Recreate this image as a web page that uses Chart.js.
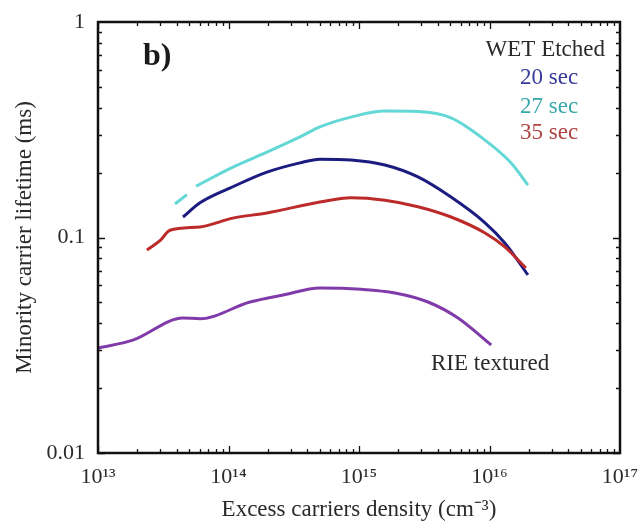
<!DOCTYPE html>
<html>
<head>
<meta charset="utf-8">
<script src="https://cdn.jsdelivr.net/npm/chart.js@4/dist/chart.umd.min.js"></script>
<style>
  html, body { margin: 0; padding: 0; background: #ffffff; }
  canvas { display: block; }
</style>
</head>
<body>
<canvas id="c" width="638" height="524"></canvas>
<script>
// ---- Data ----
const xTickValues = [1e13, 1e14, 1e15, 1e16, 1e17];
const xTickLabels = ['10\u00B9\u00B3', '10\u00B9\u2074', '10\u00B9\u2075', '10\u00B9\u2076', '10\u00B9\u2077'];
const yTickValues = [0.01, 0.1, 1];
const yTickLabels = ['0.01', '0.1', '1'];

const sec27X = [3.89e13, 4.8e13, 5.2e13, 5.64e13, 1.08e14, 1.97e14, 3.53e14, 5.02e14, 8.68e14, 1.58e15, 2.83e15, 5.07e15, 9.24e15, 1.46e16, 1.97e16];
const sec27Y = [0.143, 0.158, null, 0.173, 0.212, 0.249, 0.293, 0.326, 0.362, 0.386, 0.384, 0.359, 0.283, 0.222, 0.175];

const sec20X = [4.48e13, 6.05e13, 1.08e14, 1.97e14, 3.53e14, 5.02e14, 8.68e14, 1.58e15, 2.83e15, 5.07e15, 9.24e15, 1.31e16, 1.97e16];
const sec20Y = [0.1245, 0.145, 0.172, 0.201, 0.222, 0.231, 0.229, 0.217, 0.191, 0.154, 0.117, 0.0943, 0.067];

const sec35X = [2.37e13, 3.0e13, 3.56e13, 6.05e13, 1.08e14, 1.97e14, 5.02e14, 8.68e14, 1.58e15, 2.83e15, 5.07e15, 9.24e15, 1.31e16, 1.9e16];
const sec35Y = [0.0875, 0.097, 0.108, 0.112, 0.123, 0.130, 0.146, 0.153, 0.149, 0.139, 0.1245, 0.105, 0.0904, 0.0722];

const rieX = [1.0e13, 1.85e13, 4.48e13, 6.05e13, 1.46e14, 2.62e14, 5.02e14, 1.04e15, 1.89e15, 3.38e15, 5.74e15, 1.03e16];
const rieY = [0.0307, 0.0334, 0.0423, 0.0420, 0.0502, 0.0541, 0.0583, 0.0575, 0.0553, 0.0502, 0.0423, 0.0317];

const seriesNames = ['20 sec', '27 sec', '35 sec', 'RIE textured'];

// ---- helpers ----
function pts(xs, ys) { return xs.map((x, i) => ({ x: x, y: ys[i] })); }
const FONT = '"Liberation Serif", "Times New Roman", serif';
const TEXT = '#2a2a2a';

const frameTicks = {
  id: 'frameTicks',
  afterDatasetsDraw(chart) {
    const { ctx, chartArea: a, scales } = chart;
    const xs = scales.x, ys = scales.y;
    ctx.save();
    ctx.strokeStyle = '#111';
    ctx.lineWidth = 1.3;
    ctx.beginPath();
    for (let e = 13; e < 17; e++) {
      for (let k = 1; k <= 9; k++) {
        const v = k * Math.pow(10, e);
        const p = Math.round(xs.getPixelForValue(v)) + 0.5;
        const len = k === 1 ? 7 : 4;
        ctx.moveTo(p, a.bottom); ctx.lineTo(p, a.bottom - len);
        ctx.moveTo(p, a.top); ctx.lineTo(p, a.top + len);
      }
    }
    for (let e = -2; e < 0; e++) {
      for (let k = 1; k <= 9; k++) {
        const v = k * Math.pow(10, e);
        const p = Math.round(ys.getPixelForValue(v)) + 0.5;
        const len = k === 1 ? 7 : 4;
        ctx.moveTo(a.left, p); ctx.lineTo(a.left + len, p);
        ctx.moveTo(a.right, p); ctx.lineTo(a.right - len, p);
      }
    }
    ctx.stroke();
    ctx.lineWidth = 2.5;
    ctx.strokeRect(a.left, a.top, a.right - a.left, a.bottom - a.top);
    // annotations
    ctx.textBaseline = 'middle';
    ctx.fillStyle = '#1a1a1a';
    ctx.font = 'bold 32px ' + FONT;
    ctx.textAlign = 'left';
    ctx.fillText('b)', a.left + 45, a.top + 35);
    ctx.font = '23px ' + FONT;
    ctx.fillStyle = TEXT;
    ctx.textAlign = 'right';
    ctx.fillText('WET Etched', a.right - 15, a.top + 28);
    ctx.textAlign = 'left';
    ctx.fillStyle = '#3a3a9a';
    ctx.fillText(seriesNames[0], a.left + 422, a.top + 56);
    ctx.fillStyle = '#3aa8a8';
    ctx.fillText(seriesNames[1], a.left + 422, a.top + 85);
    ctx.fillStyle = '#b04444';
    ctx.fillText(seriesNames[2], a.left + 422, a.top + 111);
    ctx.fillStyle = TEXT;
    ctx.fillText(seriesNames[3], a.left + 333, a.top + 342);
    ctx.restore();
  }
};

function lineDs(label, data, color) {
  return {
    label: label, data: data, borderColor: color, backgroundColor: color,
    borderWidth: 3, pointRadius: 0, cubicInterpolationMode: 'monotone',
    spanGaps: false, showLine: true, fill: false
  };
}

new Chart(document.getElementById('c'), {
  type: 'scatter',
  data: {
    datasets: [
      lineDs(seriesNames[3], pts(rieX, rieY), 'rgb(128,58,170)'),
      lineDs(seriesNames[1], pts(sec27X, sec27Y), 'rgb(100,215,215)'),
      lineDs(seriesNames[2], pts(sec35X, sec35Y), 'rgb(188,42,42)'),
      lineDs(seriesNames[0], pts(sec20X, sec20Y), 'rgb(28,28,128)')
    ]
  },
  options: {
    responsive: false,
    animation: false,
    devicePixelRatio: 1,
    layout: { padding: { left: 11, right: 18, top: 22, bottom: 0 } },
    plugins: { legend: { display: false }, tooltip: { enabled: false } },
    scales: {
      x: {
        type: 'logarithmic', position: 'bottom', min: 1e13, max: 1e17,
        grid: { display: false, drawTicks: false }, border: { display: false },
        afterFit(s) { s.height = 71; s.paddingLeft = 0; s.paddingRight = 0; },
        afterBuildTicks(s) { s.ticks = xTickValues.map(v => ({ value: v })); },
        ticks: {
          autoSkip: false, maxRotation: 0, padding: 11, color: TEXT,
          font: { family: FONT, size: 22 },
          callback(v) { const i = xTickValues.indexOf(v); return i >= 0 ? xTickLabels[i] : ''; }
        },
        title: { display: true, text: 'Excess carriers density (cm\u207B\u00B3)', color: TEXT, padding: 0,
                 font: { family: FONT, size: 23 } }
      },
      y: {
        type: 'logarithmic', position: 'left', min: 0.01, max: 1,
        grid: { display: false, drawTicks: false }, border: { display: false },
        afterFit(s) { s.width = 87; s.paddingTop = 0; s.paddingBottom = 0; },
        afterBuildTicks(s) { s.ticks = yTickValues.map(v => ({ value: v })); },
        ticks: {
          autoSkip: false, padding: 13, color: TEXT,
          font: { family: FONT, size: 22 },
          callback(v) { const i = yTickValues.indexOf(v); return i >= 0 ? yTickLabels[i] : ''; }
        },
        title: { display: true, text: 'Minority carrier lifetime (ms)', color: TEXT, padding: 0,
                 font: { family: FONT, size: 23 } }
      }
    }
  },
  plugins: [frameTicks]
});
</script>
</body>
</html>
